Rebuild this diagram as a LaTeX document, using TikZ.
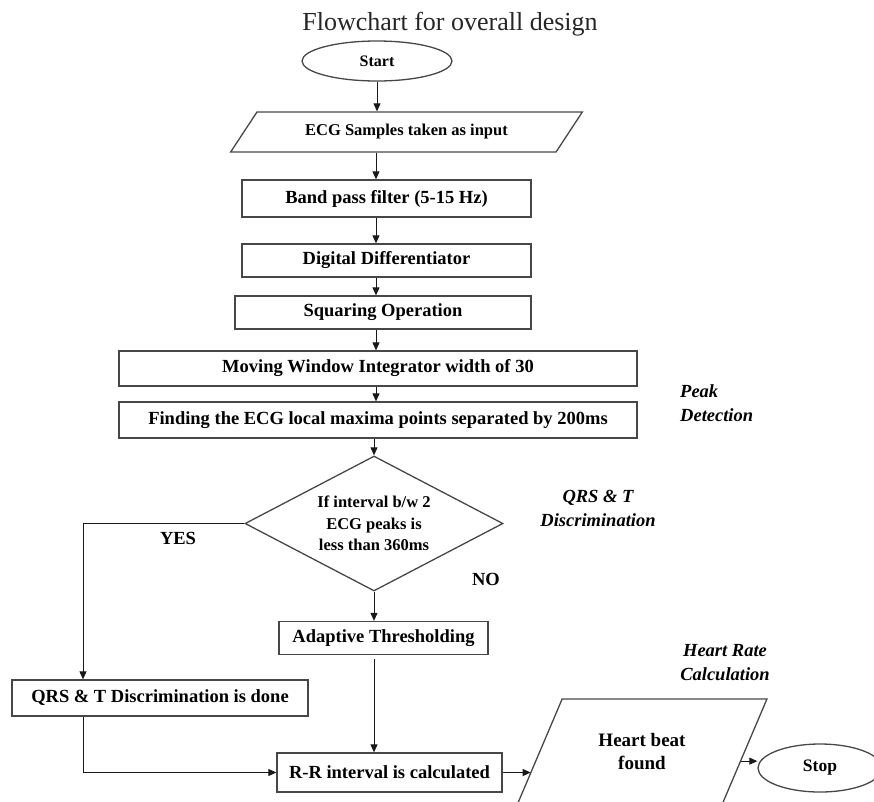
\documentclass[tikz,border=0pt]{standalone}
\usepackage{fontspec}
\setmainfont{Liberation Serif}
\usetikzlibrary{shapes.geometric,arrows.meta,calc}
\begin{document}
\begin{tikzpicture}[x=1pt,y=-1pt,
  shp/.style={draw=black!72,line width=1.3pt,inner sep=0pt},
  box/.style={shp,rectangle,font=\fontsize{18.5}{22}\selectfont\bfseries},
  term/.style={shp,ellipse,font=\fontsize{16}{19}\selectfont\bfseries},
  io/.style={shp,trapezium,trapezium stretches=true},
  cond/.style={shp,diamond,align=center,font=\fontsize{16.5}{21.5}\selectfont\bfseries},
  link/.style={draw=black!90,line width=0.9pt,-{Triangle[length=8pt,width=7pt]}},
  lab/.style={font=\fontsize{18.5}{24}\selectfont\bfseries\itshape,align=center,inner sep=0pt},
  yn/.style={font=\fontsize{18.5}{22}\selectfont\bfseries,inner sep=0pt}]
\useasboundingbox (0,0) rectangle (874,801);
\clip (0,0) rectangle (874,801);

\node[font=\fontsize{26}{30}\selectfont,text=black!85,inner sep=0pt] (title) at (450,24) {Flowchart for overall design};

\node[term,minimum width=150pt,minimum height=40pt] (start) at (377,61) {Start};
\node[io,trapezium left angle=40,trapezium right angle=140,minimum width=353pt,minimum height=40pt,font=\fontsize{16.5}{20}\selectfont\bfseries] (ecg) at (406.5,132) {ECG Samples taken as input};
\node[box,minimum width=289pt,minimum height=37pt] (band) at (386.5,198.5) {Band pass filter (5-15 Hz)};
\node[box,minimum width=289pt,minimum height=33pt] (diff) at (386.5,260.5) {Digital Differentiator};
\node[box,minimum width=296pt,minimum height=33pt] (sq) at (383,312.5) {Squaring Operation};
\node[box,minimum width=518pt,minimum height=35pt] (mwi) at (378,368.5) {Moving Window Integrator width of 30};
\node[box,minimum width=518pt,minimum height=36pt] (find) at (378,420) {Finding the ECG local maxima points separated by 200ms};
\node[cond,minimum width=258pt,minimum height=135pt,aspect=1.9] (dec) at (374,523.5) {If interval b/w 2\\ECG peaks is\\less than 360ms};
\node[box,minimum width=209pt,minimum height=33pt] (adapt) at (383.5,638) {Adaptive Thresholding};
\node[box,minimum width=296pt,minimum height=36pt] (qrs) at (160,698) {QRS \& T Discrimination is done};
\node[box,minimum width=225pt,minimum height=39pt] (rr) at (389.5,772.5) {R-R interval is calculated};
\node[io,trapezium left angle=56,trapezium right angle=124,minimum width=250pt,minimum height=106pt,align=center,font=\fontsize{19}{23}\selectfont\bfseries] (heart) at (642,752) {Heart beat\\found};
\node[term,minimum width=124pt,minimum height=48pt,font=\fontsize{17.5}{20}\selectfont\bfseries] (stop) at (820,768) {Stop};

\node[lab,anchor=west,align=left] (peak) at (680,403) {Peak\\Detection};
\node[lab] (qrst) at (598,508) {QRS \& T\\Discrimination};
\node[lab] (hrc) at (725,663) {Heart Rate\\Calculation};
\node[yn] (yes) at (178,538) {YES};
\node[yn] (no) at (486,579) {NO};

\coordinate (sp) at (376,0);
\coordinate (yx) at (83,0);
\path (heart.bottom left corner) -- (heart.top left corner) coordinate[pos=0.32] (hl);
\path (heart.bottom right corner) -- (heart.top right corner) coordinate[pos=0.415] (hr);

\draw[link] (start.south) -- (start.south |- ecg.north);
\draw[link] (ecg.south -| sp) -- (band.north -| sp);
\draw[link] (band.south -| sp) -- (diff.north -| sp);
\draw[link] (diff.south -| sp) -- (sq.north -| sp);
\draw[link] (sq.south -| sp) -- (mwi.north -| sp);
\draw[link] (mwi.south -| sp) -- (find.north -| sp);
\draw[link] (find.south -| dec.north) -- (dec.north);
\draw[link] (dec.south) -- (dec.south |- adapt.north);
\draw[link,shorten <=4pt] (adapt.south -| dec.south) -- (rr.north -| dec.south);
\draw[link] (dec.west) -- (dec.west -| yx) -- (qrs.north -| yx);
\draw[link] (qrs.south -| yx) |- (rr.west);
\draw[link] (rr.east) -- (rr.east -| hl);
\draw[link] (hr) -- (hr -| stop.west);
\end{tikzpicture}
\end{document}
